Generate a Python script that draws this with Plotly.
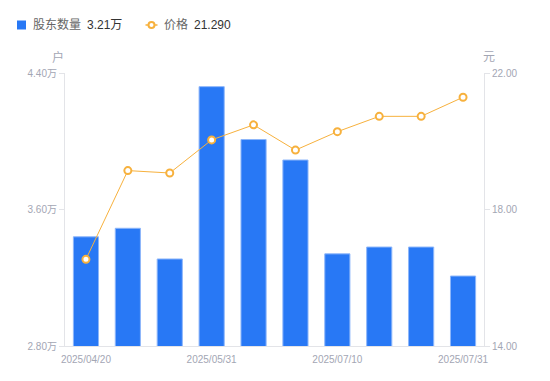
import plotly.graph_objects as go

dates = ["2025/04/20", "2025/04/30", "2025/05/20", "2025/05/31", "2025/06/10",
         "2025/06/30", "2025/07/10", "2025/07/18", "2025/07/20", "2025/07/31"]
holders_wan = [3.44, 3.49, 3.31, 4.32, 4.01, 3.89, 3.34, 3.38, 3.38, 3.21]
price = [16.54, 19.14, 19.07, 20.04, 20.48, 19.74, 20.28, 20.73, 20.73, 21.29]

x_tickvals = ["2025/04/20", "2025/05/31", "2025/07/10", "2025/07/31"]
left_tickvals = [2.8, 3.6, 4.4]
left_ticktext = ["2.80万", "3.60万", "4.40万"]
right_tickvals = [14, 18, 22]
right_ticktext = ["14.00", "18.00", "22.00"]

BLUE = "#2878F5"
ORANGE = "#F7B13D"
GRAY = "#A3A6B4"
AXIS = "#E3E4E8"
FONT = "Liberation Sans, Noto Sans CJK SC, sans-serif"

W, H = 550, 381
ML, MR, MT, MB = 65, 66, 73, 35
PW, PH = W - ML - MR, H - MT - MB


def px(x):
    return (x - ML) / PW


def py(y):
    return (H - MB - y) / PH


fig = go.Figure()
fig.add_trace(go.Bar(
    x=dates, y=holders_wan, name="股东数量",
    marker=dict(color=BLUE, line=dict(color="#8DB6FA", width=1)),
    yaxis="y",
))
fig.add_trace(go.Scatter(
    x=dates, y=price, name="价格",
    mode="lines+markers",
    line=dict(color=ORANGE, width=1),
    marker=dict(color="white", size=7, line=dict(color=ORANGE, width=2)),
    yaxis="y2",
))

ly = 25
shapes = [
    dict(type="rect", xref="paper", yref="paper", x0=px(17), x1=px(26), y0=py(29.5), y1=py(20.5),
         fillcolor=BLUE, line=dict(width=0)),
    dict(type="line", xref="paper", yref="paper", x0=px(145.5), x1=px(157.5), y0=py(ly), y1=py(ly),
         line=dict(color=ORANGE, width=1.5)),
    dict(type="circle", xref="paper", yref="paper", x0=px(148.5), x1=px(154.5), y0=py(ly + 3), y1=py(ly - 3),
         fillcolor="white", line=dict(color=ORANGE, width=2)),
]

annotations = [
    dict(text="股东数量", x=px(31), y=py(ly), xanchor="left", yanchor="middle",
         font=dict(size=12, color="#666", family=FONT)),
    dict(text=f"{holders_wan[-1]:.2f}万", x=px(85), y=py(ly), xanchor="left", yanchor="middle",
         font=dict(size=12, color="#333", family=FONT)),
    dict(text="价格", x=px(162), y=py(ly), xanchor="left", yanchor="middle",
         font=dict(size=12, color="#666", family=FONT)),
    dict(text=f"{price[-1]:.3f}", x=px(192), y=py(ly), xanchor="left", yanchor="middle",
         font=dict(size=12, color="#333", family=FONT)),
    dict(text="户", x=px(58), y=py(57), xanchor="center", yanchor="middle",
         font=dict(size=12, color=GRAY, family=FONT)),
    dict(text="元", x=px(489), y=py(57), xanchor="center", yanchor="middle",
         font=dict(size=12, color=GRAY, family=FONT)),
]
for a in annotations:
    a.update(xref="paper", yref="paper", showarrow=False)

fig.update_layout(
    width=W, height=H,
    margin=dict(l=ML, r=MR, t=MT, b=MB, autoexpand=False),
    paper_bgcolor="white", plot_bgcolor="white",
    font=dict(family=FONT, size=10, color=GRAY),
    bargap=0.4,
    showlegend=False,
    xaxis=dict(type="category", tickmode="array", tickvals=x_tickvals,
               range=[-0.5, len(dates) - 0.5],
               showline=True, linecolor=AXIS, linewidth=1, ticks="",
               ticklabelstandoff=4,
               showgrid=False, tickfont=dict(size=10, color=GRAY)),
    yaxis=dict(range=[2.8, 4.4], tickmode="array", tickvals=left_tickvals,
               ticktext=left_ticktext, showgrid=False, zeroline=False,
               showline=True, linecolor=AXIS, linewidth=1,
               ticks="outside", ticklen=5, tickcolor=AXIS,
               tickfont=dict(size=10, color=GRAY)),
    yaxis2=dict(range=[14, 22], tickmode="array", tickvals=right_tickvals,
                ticktext=right_ticktext, overlaying="y", side="right",
                showgrid=False, zeroline=False,
                showline=True, linecolor=AXIS, linewidth=1,
                ticks="outside", ticklen=5, tickcolor=AXIS,
                tickfont=dict(size=10, color=GRAY)),
    shapes=shapes,
    annotations=annotations,
)

fig.write_html("out.html", config={"displayModeBar": False},
               post_script="document.body.style.margin='0';")
